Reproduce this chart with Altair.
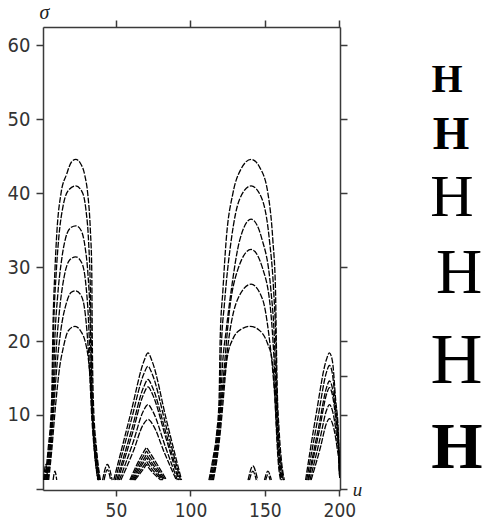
import altair as alt
import pandas as pd

# ---- cluster 1 (apex near u = 23) ----
C1_ARCS = [
    ([2.3, 4.4, 6.8, 7.7, 9.1, 10.4, 13.1, 16.9, 20, 23, 26, 29.2, 31, 32.8, 33.7, 34.1, 34.8, 37, 39.5],
     [1.2, 5.3, 12, 22, 30, 35, 40, 42.6, 44.2, 44.6, 44.1, 42.3, 40, 35, 30, 20, 12, 5.3, 1.2]),
    ([2.8, 4.9, 7.2, 8.2, 9.8, 11.6, 14.5, 18.5, 23, 27, 29.8, 31.6, 32.8, 33.4, 34.2, 36.6, 39.2],
     [1.2, 5.3, 12, 22, 29, 34, 38.3, 40.5, 41.0, 40.3, 37.8, 33.5, 27, 20, 12, 5.3, 1.2]),
    ([3.3, 5.4, 7.7, 8.9, 10.8, 13.5, 17, 20, 23, 26.5, 29.2, 31.2, 32.5, 33.2, 34, 36.2, 38.8],
     [1.2, 5.3, 12, 20, 26, 31, 34.5, 35.4, 35.6, 35, 32.8, 29, 24, 18, 12, 5.3, 1.2]),
    ([3.8, 5.9, 8.1, 9.6, 12, 15, 19, 23, 27, 29.7, 31.5, 32.7, 33.6, 35.8, 38.4],
     [1.2, 5.3, 12, 18, 24, 28.5, 31, 31.4, 30.6, 27.8, 23, 17, 12, 5.3, 1.2]),
    ([4.3, 6.4, 8.6, 10.5, 13, 16.5, 20, 23, 26.5, 29.3, 31.2, 32.5, 33.4, 35.4, 38],
     [1.2, 5.3, 12, 17, 21.5, 25, 26.6, 26.8, 26.2, 23.8, 19.5, 15, 11, 5.3, 1.2]),
    ([4.8, 6.9, 9.3, 12.2, 14.5, 18, 22.5, 26.5, 29.5, 31.5, 33, 33.8, 35.5, 37.8],
     [1.2, 5.3, 11, 16.5, 19, 21.4, 22, 21.3, 19.8, 17.5, 14, 11, 5.3, 1.2]),
]
C1_SMALL = [
    ([1.5, 2.8, 4.2], [1.2, 3.3, 1.2]),
    ([2.0, 2.9, 3.8], [1.2, 2.6, 1.2]),
    ([7.8, 9.0, 10.2], [1.2, 2.4, 1.2]),
    ([41.0, 44.2, 47.4], [1.2, 3.3, 1.2]),
    ([42.0, 44.2, 46.4], [1.2, 2.6, 1.2]),
]

# ---- cluster 2 (apex near u = 71.5) ----
C2_ARCS = [
    ([48.5, 60, 68.8, 71.5, 74.2, 84, 94.0], [1.2, 10.3, 17.3, 18.4, 17.3, 9.2, 1.2]),
    ([49.5, 60, 68.8, 71.5, 74.2, 84, 93.3], [1.2, 9.1, 15.6, 16.6, 15.6, 8.2, 1.2]),
    ([50.5, 60.5, 68.6, 71.5, 74.4, 83.5, 92.5], [1.2, 8.0, 13.8, 14.8, 13.8, 7.6, 1.2]),
    ([51.3, 61, 68.5, 71.5, 74.5, 83.5, 92.0], [1.2, 7.5, 12.8, 13.8, 12.8, 6.9, 1.2]),
    ([52.3, 61.5, 68.3, 71.5, 74.7, 83, 91.2], [1.2, 6.3, 10.5, 11.4, 10.5, 5.8, 1.2]),
    ([53.3, 62, 68, 71.5, 75, 82.5, 90.5], [1.2, 5.3, 8.6, 9.4, 8.6, 4.9, 1.2]),
]
C2_SMALL = [
    ([59.3, 69.5, 70.5, 71.5, 83.9], [1.2, 5.3, 5.6, 5.3, 1.2]),
    ([60.0, 69.5, 70.5, 71.5, 83.0], [1.2, 4.8, 5.1, 4.8, 1.2]),
    ([60.7, 69.5, 70.5, 71.5, 82.2], [1.2, 4.3, 4.6, 4.3, 1.2]),
    ([61.4, 69.5, 70.5, 71.5, 81.5], [1.2, 3.9, 4.2, 3.9, 1.2]),
    ([62.0, 69.5, 70.5, 71.5, 80.8], [1.2, 3.4, 3.7, 3.4, 1.2]),
    ([62.7, 69.5, 70.5, 71.5, 80.0], [1.2, 3.0, 3.3, 3.0, 1.2]),
]

# ---- cluster 3 (apex near u = 140.7) ----
C3_ARCS = [
    ([112.4, 115, 117.6, 119.2, 120, 121.8, 124, 128.5, 134, 140.7, 146.5, 152, 155.3, 157.1, 157.6, 158.2, 159.5, 161, 163],
     [1.2, 4, 7.6, 12, 20.6, 26.9, 33.7, 40, 43.3, 44.6, 43.5, 40, 33.7, 26.9, 20.6, 14, 8, 4, 1.2]),
    ([113, 115.6, 118.1, 119.7, 120.7, 122.8, 127.4, 133, 140.7, 147.5, 153, 155.8, 157.3, 157.9, 159, 160.5, 162.5],
     [1.2, 4, 7.6, 12, 19, 25, 33.7, 39.2, 41.0, 39.5, 33.7, 27, 20, 14, 8, 4, 1.2]),
    ([113.6, 116.2, 118.6, 120.2, 121.6, 124, 127.4, 133, 140.7, 148, 154, 156.4, 157.4, 158.6, 160, 162],
     [1.2, 4, 7.6, 12, 17, 21.5, 26.9, 33.6, 36.5, 33.8, 26.9, 20, 14, 8, 4, 1.2]),
    ([114.2, 116.8, 119, 120.7, 122.5, 126, 132, 140.7, 148.5, 154, 156, 157.2, 158.3, 159.6, 161.5],
     [1.2, 4, 7.6, 12, 16, 23.8, 29.8, 32.4, 29.8, 23.8, 18, 13, 8, 4, 1.2]),
    ([114.8, 117.3, 119.5, 121.3, 123.5, 126.3, 132, 140.7, 148.5, 152.5, 155, 156.6, 157.9, 159.2, 161],
     [1.2, 4, 7.6, 12, 16.5, 21.1, 25.8, 27.7, 25.6, 21.1, 16.5, 12.5, 8, 4, 1.2]),
    ([115.4, 117.8, 120, 122, 124.5, 128.5, 134, 140, 146, 151.5, 155, 156.6, 157.7, 158.8, 160.5],
     [1.2, 4, 7.6, 12, 17.5, 20.3, 21.6, 22, 21.5, 19.8, 17.2, 13, 8, 4, 1.2]),
]
C3_SMALL = [
    ([138.7, 141.9, 145.1], [1.2, 3.1, 1.2]),
    ([139.6, 141.9, 144.2], [1.2, 2.4, 1.2]),
    ([149.7, 152.0, 154.3], [1.2, 2.4, 1.2]),
    ([150.5, 152.0, 153.5], [1.2, 1.9, 1.2]),
]

# ---- cluster 4 (apex near u = 193.3) ----
C4_ARCS = [
    ([177.3, 184.3, 191.3, 193.3, 195.3, 197.5, 199.3, 200.2], [1.2, 10, 17.5, 18.4, 17.3, 12, 7.6, 1.5]),
    ([178.0, 185.3, 191.5, 193.3, 195.1, 197.6, 199.4, 200.2], [1.2, 9.3, 15.9, 16.7, 15.8, 11, 6.5, 1.5]),
    ([178.8, 186.0, 191.5, 193.3, 195.1, 197.8, 199.5, 200.2], [1.2, 8.3, 13.8, 14.6, 13.8, 9.5, 5.5, 1.5]),
    ([179.3, 186.5, 191.5, 193.3, 195.1, 197.9, 199.6, 200.2], [1.2, 7.9, 12.9, 13.7, 12.9, 8.8, 5.0, 1.5]),
    ([180.2, 187.0, 191.3, 193.3, 195.3, 198.2, 199.7, 200.2], [1.2, 6.8, 10.6, 11.4, 10.6, 7.0, 4.0, 1.5]),
    ([181.0, 187.5, 191.2, 193.3, 195.4, 198.5, 199.8, 200.2], [1.2, 5.8, 8.8, 9.5, 8.8, 5.5, 3.2, 1.5]),
]

X_TICKS = [50, 100, 150, 200]
Y_TICKS = [0, 10, 20, 30, 40, 50, 60]
RIGHT_TICKS = [0, 10, 15.3, 20, 30, 40, 50, 60]

# glyph samples on the right: (weight, font size, centre x px, baseline y px)
H_WEIGHTS = ["bold", "bold", "normal", "normal", "normal", "bold"]
H_SIZES = [40, 47, 60, 64, 72, 66]
H_CX = [447, 451, 452, 459, 456.5, 457]
H_BASE = [91.5, 149, 216, 293, 383, 468]

rows = []
gid = 0
for group in (C1_ARCS, C1_SMALL, C2_ARCS, C2_SMALL, C3_ARCS, C3_SMALL, C4_ARCS):
    for xs, ys in group:
        for i, (x, y) in enumerate(zip(xs, ys)):
            rows.append({"u": x, "s": y, "g": gid, "o": i})
        gid += 1
df = pd.DataFrame(rows)

xscale = alt.Scale(domain=[1, 200.4], nice=False, zero=False)
yscale = alt.Scale(domain=[-0.15, 62.5], nice=False, zero=False)

LABEL_FONT = "Liberation Sans Narrow, Arial Narrow, DejaVu Sans Condensed, Liberation Sans"
AX = dict(domainColor="#3a3a3a", domainWidth=1.5, tickColor="#3a3a3a", tickWidth=1.5,
          labelFont=LABEL_FONT, labelColor="#333333", grid=False)

lines = alt.Chart(df).mark_line(
    color="black", strokeWidth=1.3, strokeDash=[6, 1.5], interpolate="monotone", clip=True
).encode(
    x=alt.X("u:Q", scale=xscale,
            axis=alt.Axis(orient="bottom", values=X_TICKS, tickSize=6, labelPadding=5,
                          labelFontSize=19,
                          labelFlush=False, labelBound=False, labelOverlap=False,
                          title="u", titleFont="Liberation Serif", titleFontStyle="italic",
                          titleFontWeight="normal", titleFontSize=19, titleColor="#222",
                          titleX=314, titleY=5, titleAlign="center", titleBaseline="alphabetic",
                          **AX)),
    y=alt.Y("s:Q", scale=yscale,
            axis=alt.Axis(orient="left", values=Y_TICKS, tickSize=7, labelPadding=6,
                          labelFontSize=20,
                          labelExpr="datum.value == 0 ? '' : datum.label",
                          labelFlush=False, labelBound=False, labelOverlap=False,
                          title="σ", titleFont="Liberation Serif", titleFontStyle="italic",
                          titleFontWeight="normal", titleFontSize=20, titleColor="#222",
                          titleAngle=0, titleX=1, titleY=-8.5, titleAlign="center",
                          titleBaseline="alphabetic", **AX)),
    detail="g:N",
    order="o:Q",
)

frame_df = pd.DataFrame({"u": [1, 200.4], "s": [-0.15, 62.5]})
frame = alt.Chart(frame_df).mark_point(opacity=0).encode(
    x=alt.X("u:Q", scale=xscale,
            axis=alt.Axis(orient="top", values=X_TICKS, tickSize=7, labels=False, title=None, **AX)),
    y=alt.Y("s:Q", scale=yscale,
            axis=alt.Axis(orient="right", values=RIGHT_TICKS, tickSize=7, labels=False, title=None, **AX)),
)

hdf = pd.DataFrame({"t": ["H"]})
glyphs = []
for w, sz, cx, by in zip(H_WEIGHTS, H_SIZES, H_CX, H_BASE):
    glyphs.append(
        alt.Chart(hdf).mark_text(
            font="Liberation Serif", fontWeight=w, fontSize=sz, color="black",
            align="center", baseline="alphabetic", x=cx - 43, y=by - 27
        ).encode(text="t:N")
    )

chart = alt.layer(lines, frame, *glyphs).resolve_axis(
    x="independent", y="independent"
).properties(
    width=297, height=463,
    padding={"left": 35, "top": 19, "right": 143, "bottom": 31},
    autosize=alt.AutoSizeParams(type="none"),
).configure_view(stroke=None).configure(background="white")

chart.save("out.html", embed_options={"renderer": "svg", "actions": False})
